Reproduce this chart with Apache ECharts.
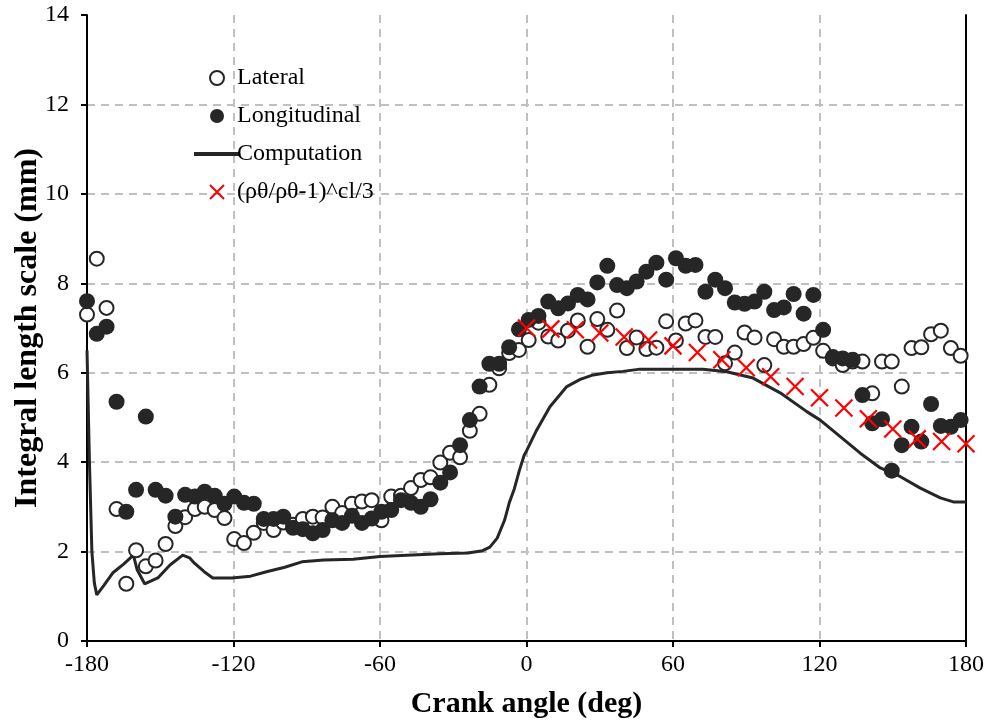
<!DOCTYPE html>
<html>
<head>
<meta charset="utf-8">
<title>Integral length scale</title>
<script src="https://cdn.jsdelivr.net/npm/echarts@6/dist/echarts.min.js"></script>
<style>
html,body{margin:0;padding:0;background:#fff;}
#main{width:992px;height:721px;}
</style>
</head>
<body>
<div id="main"></div>
<script>
// measurement crank angles (deg)
var angles = [-180,-176,-172,-167.9,-163.9,-159.9,-155.9,-151.9,-147.8,-143.8,
	-139.8,-135.8,-131.8,-127.7,-123.7,-119.7,-115.7,-111.7,-107.6,-103.6,
	-99.6,-95.6,-91.6,-87.5,-83.5,-79.5,-75.5,-71.5,-67.4,-63.4,
	-59.4,-55.4,-51.4,-47.3,-43.3,-39.3,-35.3,-31.3,-27.2,-23.2,
	-19.2,-15.2,-11.2,-7.1,-3.1,0.9,4.9,8.9,13,17,
	21,25,29,33.1,37.1,41.1,45.1,49.1,53.2,57.2,
	61.2,65.2,69.2,73.3,77.3,81.3,85.3,89.3,93.4,97.4,
	101.4,105.4,109.4,113.5,117.5,121.5,125.5,129.5,133.6,137.6,
	141.6,145.6,149.6,153.7,157.7,161.7,165.7,169.7,173.8,177.8];
var lateral = [7.3,8.55,7.45,2.95,1.28,2.03,1.67,1.80,2.17,2.57,
	2.77,2.95,3.0,2.93,2.75,2.28,2.19,2.42,2.64,2.48,
	2.65,2.6,2.73,2.78,2.76,3.0,2.86,3.07,3.12,3.15,
	2.7,3.23,3.25,3.42,3.6,3.66,3.99,4.21,4.11,4.7,
	5.08,5.73,6.1,6.44,6.51,6.73,7.12,6.81,6.72,6.94,
	7.17,6.58,7.2,6.96,7.39,6.55,6.79,6.53,6.56,7.15,
	6.72,7.1,7.17,6.8,6.8,6.21,6.45,6.9,6.79,6.17,
	6.75,6.58,6.58,6.64,6.78,6.49,6.32,6.17,6.25,6.25,
	5.54,6.25,6.25,5.69,6.55,6.57,6.86,6.94,6.55,6.38];
var longitudinal = [7.6,6.87,7.03,5.35,2.89,3.38,5.02,3.38,3.25,2.78,
	3.27,3.23,3.34,3.25,3.07,3.23,3.09,3.07,2.73,2.73,
	2.78,2.53,2.5,2.41,2.48,2.7,2.64,2.8,2.64,2.74,
	2.89,2.93,3.15,3.09,3.0,3.17,3.54,3.77,4.38,4.94,
	5.69,6.2,6.2,6.57,6.97,7.18,7.27,7.59,7.44,7.55,
	7.74,7.64,8.02,8.39,7.96,7.89,8.04,8.26,8.46,8.08,
	8.56,8.39,8.41,7.81,8.08,7.89,7.57,7.54,7.59,7.81,
	7.4,7.46,7.76,7.32,7.74,6.96,6.35,6.32,6.29,5.5,
	4.87,4.96,3.81,4.38,4.79,4.46,5.3,4.81,4.79,4.94];

// computation curve
var compAngle = [-180,-179,-178,-177,-176,-173,-169.5,-165,-161,-159.5,
	-156.4,-151,-146,-140.8,-138,-136,-132,-128.5,-120.7,-113,
	-106.5,-99,-92,-83,-71,-60,-49,-35.5,-24,-18,
	-15,-12,-9,-7,-5,-3,-1,0,4.2,9.6,
	16.5,22,27.3,33,39.5,46.5,60,72.3,82,92.8,
	103.9,114.8,120.3,128.5,136.7,144.9,153,161.3,169.5,174.8,180];
var compValue = [6.5,4.0,2.0,1.3,1.03,1.25,1.52,1.72,1.92,1.6,
	1.28,1.41,1.70,1.92,1.86,1.74,1.55,1.41,1.41,1.45,
	1.55,1.65,1.77,1.81,1.83,1.89,1.92,1.95,1.97,2.02,
	2.1,2.3,2.7,3.1,3.4,3.8,4.15,4.25,4.72,5.24,
	5.69,5.85,5.95,6.0,6.03,6.08,6.08,6.08,6.02,5.88,
	5.55,5.13,4.94,4.57,4.2,3.87,3.68,3.42,3.2,3.11,3.11];

// (ρθ/ρθ-1)^cl/3
var ratioAngle = [0,10,20,30,40,50,60,70,80,90,100,110,120,130,140,150,160,170,180];
var ratioValue = [7.0,6.98,6.96,6.89,6.8,6.73,6.6,6.45,6.29,6.11,5.91,5.69,5.44,5.21,4.97,4.74,4.52,4.46,4.41];

var xTicks = [-180,-120,-60,0,60,120,180];

function pairs(xs, ys){
	var out = [];
	for (var i = 0; i < xs.length; i++) {
		out.push([xs[i], ys[i]]);
	}
	return out;
}

var font = 'Liberation Serif, Times New Roman, serif';
var ink = '#262626';
var gridLine = {show: true, showMaxLine: false, lineStyle: {color: '#c0c0c0', type: [8, 6], width: 2}};

var chart = echarts.init(document.getElementById('main'));
var option = {
	animation: false,
	backgroundColor: '#fff',
	grid: {left: 87, right: 26, top: 15, bottom: 80, outerBoundsMode: 'none', containLabel: false},
	legend: {
		orient: 'vertical',
		left: 187,
		top: 61,
		itemWidth: 46,
		itemHeight: 14,
		itemGap: 14,
		textStyle: {fontFamily: font, fontSize: 24, color: '#000', lineHeight: 24, padding: [0, 0, 0, -8]},
		data: [
			'Lateral',
			'Longitudinal',
			{name: 'Computation', itemStyle: {opacity: 0}, lineStyle: {width: 4, color: ink}},
			'(ρθ/ρθ-1)^cl/3'
		]
	},
	xAxis: {
		type: 'value',
		min: -180,
		max: 180,
		interval: 60,
		name: 'Crank angle (deg)',
		nameLocation: 'middle',
		nameGap: 48,
		nameMoveOverlap: false,
		nameTextStyle: {fontFamily: font, fontSize: 30, fontWeight: 'bold', color: '#000'},
		axisLine: {onZero: false, lineStyle: {color: '#000', width: 2}},
		axisTick: {inside: false, length: 6, lineStyle: {color: '#000', width: 2}},
		axisLabel: {
			fontFamily: font, fontSize: 24, color: '#000', margin: 12,
			formatter: function(v){ return xTicks.indexOf(v) >= 0 ? String(v) : ''; }
		},
		splitLine: gridLine
	},
	yAxis: [{
		type: 'value',
		min: 0,
		max: 14,
		interval: 2,
		name: 'Integral length scale (mm)',
		nameLocation: 'middle',
		nameGap: 59,
		nameMoveOverlap: false,
		nameTextStyle: {fontFamily: font, fontSize: 32, fontWeight: 'bold', color: '#000', verticalAlign: 'middle'},
		axisLine: {show: true, onZero: false, lineStyle: {color: '#000', width: 2}},
		axisTick: {show: true, length: 6, lineStyle: {color: '#000', width: 2}},
		axisLabel: {fontFamily: font, fontSize: 24, color: '#000', margin: 18},
		splitLine: gridLine
	}, {
		// right frame line
		type: 'value',
		position: 'right',
		min: 0,
		max: 14,
		interval: 2,
		axisLine: {show: true, onZero: false, lineStyle: {color: '#000', width: 2}},
		axisTick: {show: false},
		axisLabel: {show: false},
		splitLine: {show: false}
	}],
	series: [{
		name: 'Computation',
		type: 'line',
		data: pairs(compAngle, compValue),
		symbol: 'none',
		lineStyle: {color: ink, width: 3},
		itemStyle: {color: ink},
		z: 2
	}, {
		name: 'Lateral',
		type: 'scatter',
		data: pairs(angles, lateral),
		symbol: 'circle',
		symbolSize: 14,
		itemStyle: {color: '#fff', borderColor: ink, borderWidth: 2, opacity: 1},
		z: 3
	}, {
		name: 'Longitudinal',
		type: 'scatter',
		data: pairs(angles, longitudinal),
		symbol: 'circle',
		symbolSize: 16,
		itemStyle: {color: ink, opacity: 1},
		z: 4
	}, {
		name: '(ρθ/ρθ-1)^cl/3',
		type: 'scatter',
		data: pairs(ratioAngle, ratioValue),
		symbol: 'path://M0,0L10,10M10,0L0,10',
		symbolSize: 17,
		itemStyle: {color: 'transparent', borderColor: '#ff0000', borderWidth: 2.2, opacity: 1},
		z: 5
	}]
};
chart.setOption(option);
</script>
</body>
</html>
